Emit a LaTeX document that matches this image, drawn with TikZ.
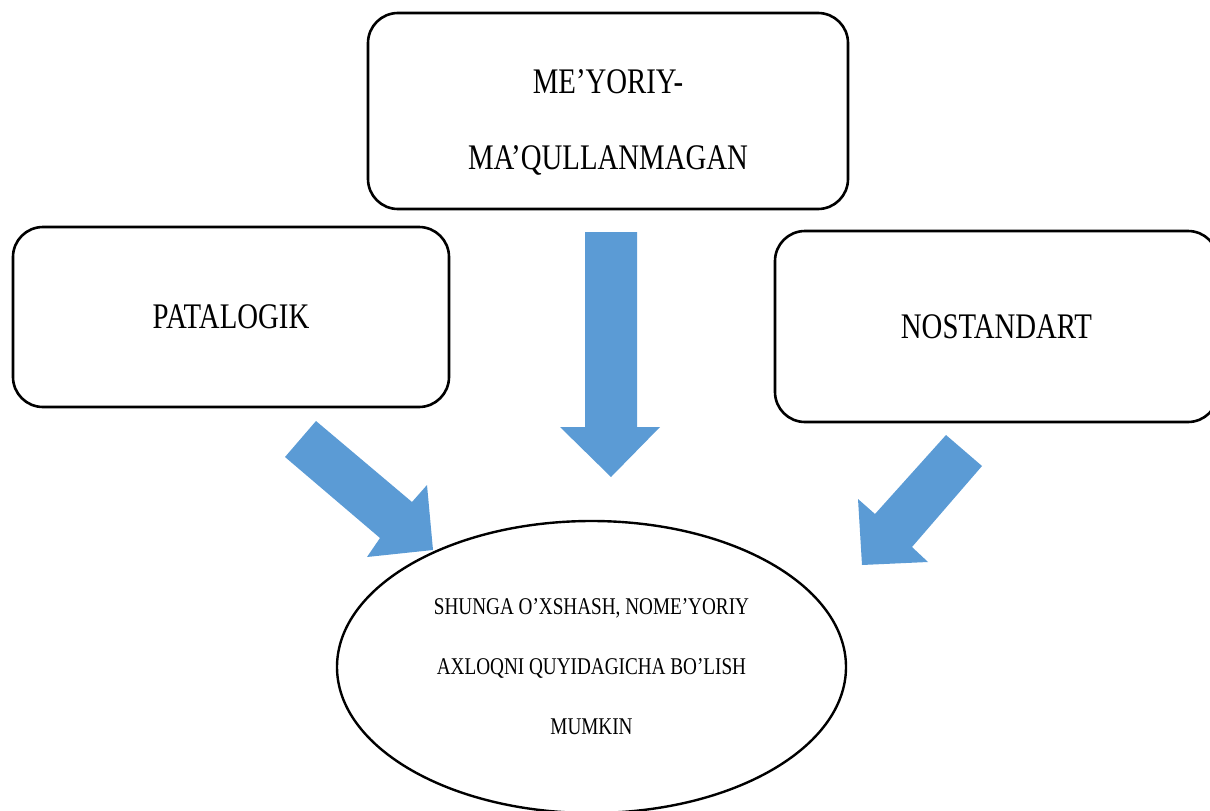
\documentclass[tikz,border=0pt]{standalone}
\usepackage{fontspec}
\setmainfont[FakeStretch=0.8]{Liberation Serif}
\usetikzlibrary{shapes.geometric}
\definecolor{arrowblue}{HTML}{5B9BD5}
\tikzset{
  rbox/.style={draw=black, line width=2.6pt, rounded corners=30pt, fill=white,
    align=center, inner sep=0pt, font=\fontsize{36}{76}\selectfont},
  boxtext/.style={align=center, inner sep=0pt, font=\fontsize{36}{76}\selectfont},
  oval/.style={draw=black, line width=2.4pt, ellipse, fill=white, inner sep=0pt,
    align=center, font=\fontsize{24}{60}\selectfont},
  blockarrow/.style={fill=arrowblue, draw=none}
}
\begin{document}
\begin{tikzpicture}[x=1pt,y=-1pt]
\useasboundingbox (0,0) rectangle (1210,811);
% boxes
\node[rbox, minimum width=480pt, minimum height=196pt] (top) at (608,111) {};
\node[boxtext] (toptext) at (608,122) {ME’YORIY-\\MA’QULLANMAGAN};
\node[rbox, minimum width=436pt, minimum height=180pt] (left) at (231,317) {PATALOGIK};
\node[rbox, minimum width=443pt, minimum height=191pt] (right) at (996.5,326.5) {NOSTANDART};
\node[oval, minimum width=509pt, minimum height=292pt] (ell) at (591.5,667)
  {SHUNGA O’XSHASH, NOME’YORIY\\AXLOQNI QUYIDAGICHA BO’LISH\\MUMKIN};
% block arrows
\path[blockarrow] (585,232) -- (637,232) -- (637,427) -- (660,427) -- (611,477)
  -- (560,427) -- (585,427) -- cycle;
\path[blockarrow] (316,421) -- (412,502) -- (427,485) -- (433,550) -- (367,557)
  -- (380,538) -- (285,457) -- cycle;
\path[blockarrow] (946,435) -- (982,466) -- (912,547) -- (928,562) -- (862,565)
  -- (858,499) -- (875,514) -- cycle;
\end{tikzpicture}
\end{document}
